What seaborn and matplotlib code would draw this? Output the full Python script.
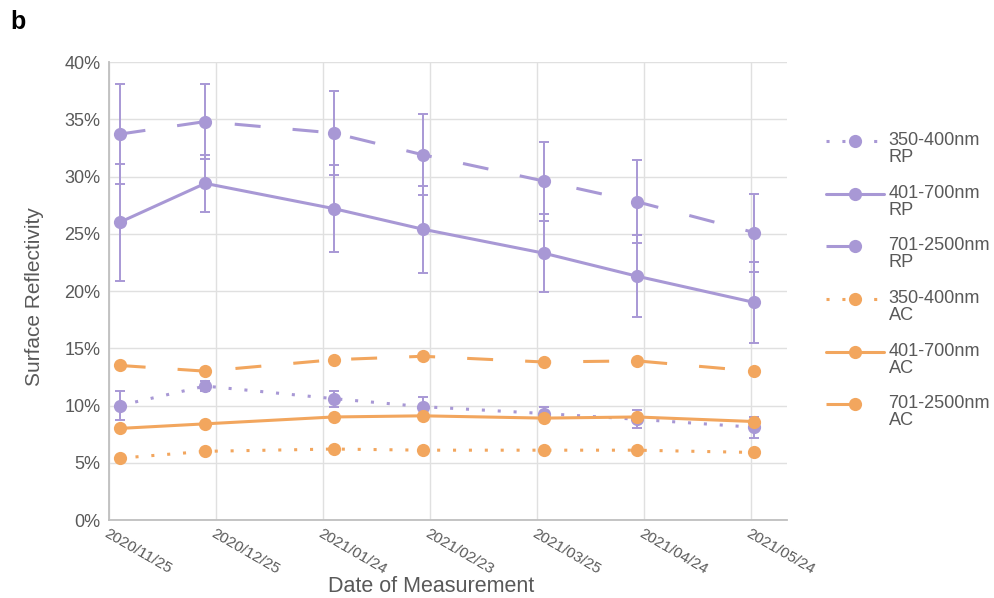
import numpy as np
import pandas as pd
import matplotlib
matplotlib.use('Agg')
import matplotlib.pyplot as plt
import matplotlib.dates as mdates
from matplotlib.legend_handler import HandlerLine2D
import seaborn as sns

# measurement dates
dates = ['2020-11-28', '2020-12-22', '2021-01-27', '2021-02-21',
         '2021-03-27', '2021-04-22', '2021-05-25']

# surface reflectivity (%) per band, RP = purple, AC = orange
rp_350 = [10.0, 11.7, 10.6, 9.9, 9.3, 8.8, 8.1]
rp_401 = [26.0, 29.4, 27.2, 25.4, 23.3, 21.3, 19.0]
rp_701 = [33.7, 34.8, 33.8, 31.9, 29.6, 27.8, 25.1]
ac_350 = [5.4, 6.0, 6.2, 6.1, 6.1, 6.1, 5.9]
ac_401 = [8.0, 8.4, 9.0, 9.1, 8.9, 9.0, 8.6]
ac_701 = [13.5, 13.0, 14.0, 14.3, 13.8, 13.9, 13.0]

# error bar half widths (RP only)
rp_350_err = [1.25, 0.4, 0.7, 0.85, 0.6, 0.8, 0.9]
rp_401_err = [5.1, 2.5, 3.8, 3.8, 3.4, 3.55, 3.5]
rp_701_err = [4.35, 3.3, 3.7, 3.55, 3.45, 3.6, 3.4]

tick_dates = ['2020-11-25', '2020-12-25', '2021-01-24', '2021-02-23',
              '2021-03-25', '2021-04-24', '2021-05-24']

labels = ['350-400nm\nRP', '401-700nm\nRP', '701-2500nm\nRP',
          '350-400nm\nAC', '401-700nm\nAC', '701-2500nm\nAC']

purple = '#a898d5'
orange = '#f2a65e'
grey_txt = '#595959'


class FirstLineHandler(HandlerLine2D):
    # put the legend marker level with the first line of a two-line label
    def create_artists(self, legend, orig_handle, xdescent, ydescent, width, height, fontsize, trans):
        return super().create_artists(legend, orig_handle, xdescent, ydescent - 0.9 * fontsize,
                                      width, height, fontsize, trans)


def main():
    sns.set_style('white')
    plt.rcParams['font.family'] = ['Liberation Sans', 'DejaVu Sans']

    series = [rp_350, rp_401, rp_701, ac_350, ac_401, ac_701]
    d = pd.to_datetime(dates)
    df = pd.concat([pd.DataFrame({'date': d, 'value': s, 'series': lab})
                    for s, lab in zip(series, labels)], ignore_index=True)

    palette = {lab: (purple if 'RP' in lab else orange) for lab in labels}
    dash_map = {}
    for lab in labels:
        if lab.startswith('350'):
            dash_map[lab] = (1.0, 4.2)
        elif lab.startswith('401'):
            dash_map[lab] = ''
        else:
            dash_map[lab] = (8.5, 10.5)

    fig = plt.figure(figsize=(9.95, 5.98), dpi=100)
    ax = fig.add_axes([0.1095, 0.1304, 0.681, 0.7659])

    for s, err in zip([rp_350, rp_401, rp_701], [rp_350_err, rp_401_err, rp_701_err]):
        ax.errorbar(d, s, yerr=err, fmt='none', ecolor=purple, elinewidth=1.4,
                    capsize=3.3, capthick=1.4, zorder=2)

    sns.lineplot(data=df, x='date', y='value', hue='series', style='series',
                 palette=palette, dashes=dash_map, markers={lab: 'o' for lab in labels},
                 markersize=9.5, markeredgewidth=0, linewidth=2.2, ax=ax,
                 legend='full', zorder=3)

    ax.set_ylim(0, 40)
    ax.set_yticks(np.arange(0, 41, 5))
    ax.yaxis.set_major_formatter(matplotlib.ticker.FuncFormatter(lambda v, p: f'{v:.0f}%'))
    ax.set_xlim(pd.Timestamp('2020-11-25'), pd.Timestamp('2021-06-03'))
    ax.set_xticks(pd.to_datetime(tick_dates))
    ax.xaxis.set_major_formatter(mdates.DateFormatter('%Y/%m/%d'))

    ax.grid(True, color='#e0e0e0', linewidth=1)
    ax.set_axisbelow(True)
    for sp in ['top', 'right']:
        ax.spines[sp].set_visible(False)
    for sp in ['left', 'bottom']:
        ax.spines[sp].set_color('#bfbfbf')
        ax.spines[sp].set_linewidth(1.3)
    ax.tick_params(axis='y', length=0, labelsize=13, labelcolor=grey_txt, pad=6)
    ax.tick_params(axis='x', length=0, labelsize=11, labelcolor=grey_txt, pad=5)
    for lbl in ax.get_xticklabels():
        lbl.set_rotation(-30)
        lbl.set_ha('left')
        lbl.set_va('top')
        lbl.set_rotation_mode('anchor')

    ax.set_xlabel('Date of Measurement', fontsize=15.5, color=grey_txt, va='center')
    ax.xaxis.set_label_coords(0.475, -0.145)
    ax.set_ylabel('Surface Reflectivity', fontsize=15, color=grey_txt, va='center')
    ax.yaxis.set_label_coords(-0.11, 0.487)

    handles, labs = ax.get_legend_handles_labels()
    ax.legend_.remove()
    leg = fig.legend(handles, labs, loc='upper left', bbox_to_anchor=(0.830, 0.779),
                     frameon=False, fontsize=13.1, labelcolor=grey_txt, handlelength=3.2,
                     labelspacing=1.04, handletextpad=0.25, borderaxespad=0, borderpad=0,
                     handler_map={h: FirstLineHandler() for h in handles})
    for t in leg.get_texts():
        t.set_linespacing(0.98)

    fig.text(0.01, 0.952, 'b', fontsize=18, fontweight='bold', color='black')

    fig.savefig('out.png', dpi=100)


if __name__ == '__main__':
    main()
